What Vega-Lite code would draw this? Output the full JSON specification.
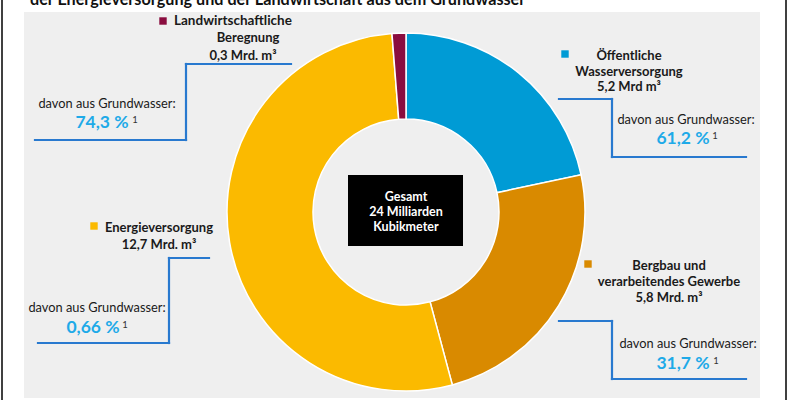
{
  "$schema": "https://vega.github.io/schema/vega-lite/v6.json",
  "width": 800,
  "height": 400,
  "padding": 0,
  "autosize": {"type": "none"},
  "background": "white",
  "config": {"view": {"stroke": null}, "axis": {"disable": true}, "text": {"font": "Lato", "color": "#1a1a1a"}},
  "data": {"values": [{}]},
  "layer": [
    {"mark": {"type": "rect", "fill": "#efefef"},
     "encoding": {"x": {"datum": 24, "type": "quantitative", "scale": {"domain": [0, 800], "nice": false, "zero": false}},
                  "x2": {"datum": 760},
                  "y": {"datum": 12, "type": "quantitative", "scale": {"domain": [0, 400], "nice": false, "zero": false, "reverse": true}},
                  "y2": {"datum": 398}}},
    {"mark": {"type": "rule", "color": "black", "strokeWidth": 1.5}, "encoding": {"x": {"datum": 2}, "y": {"datum": 0}, "y2": {"datum": 400}}},
    {"mark": {"type": "rule", "color": "black", "strokeWidth": 1.5}, "encoding": {"x": {"datum": 786}, "y": {"datum": 0}, "y2": {"datum": 400}}},
    {"mark": {"type": "text", "text": "der Energieversorgung und der Landwirtschaft aus dem Grundwasser", "align": "left", "baseline": "alphabetic", "fontSize": 16.2, "fontWeight": "bold", "color": "#111111"},
     "encoding": {"x": {"datum": 30}, "y": {"datum": 5}}},
    {"data": {"values": [
      {"Kategorie": "Öffentliche Wasserversorgung", "Mrd_m3": 5.2, "Reihenfolge": 1},
      {"Kategorie": "Bergbau und verarbeitendes Gewerbe", "Mrd_m3": 5.8, "Reihenfolge": 2},
      {"Kategorie": "Energieversorgung", "Mrd_m3": 12.7, "Reihenfolge": 3},
      {"Kategorie": "Landwirtschaftliche Beregnung", "Mrd_m3": 0.3, "Reihenfolge": 4}
    ]},
     "mark": {"type": "arc", "outerRadius": 179, "innerRadius": 93, "stroke": "white", "strokeWidth": 1.5},
     "encoding": {
       "theta": {"field": "Mrd_m3", "type": "quantitative", "stack": true},
       "order": {"field": "Reihenfolge", "type": "quantitative"},
       "color": {"field": "Kategorie", "type": "nominal", "legend": null,
                 "scale": {"domain": ["Öffentliche Wasserversorgung", "Bergbau und verarbeitendes Gewerbe", "Energieversorgung", "Landwirtschaftliche Beregnung"],
                           "range": ["#009bd5", "#d98a00", "#fbba00", "#8a0d3f"]}},
       "x": {"datum": 406}, "y": {"datum": 212}}},
    {"mark": {"type": "rect", "fill": "black"}, "encoding": {"x": {"datum": 348}, "x2": {"datum": 463}, "y": {"datum": 175}, "y2": {"datum": 246}}},
    {"mark": {"type": "text", "text": ["Gesamt", "24 Milliarden", "Kubikmeter"], "align": "center", "baseline": "middle", "fontSize": 12.5, "fontWeight": "bold", "color": "white", "lineHeight": 15},
     "encoding": {"x": {"datum": 406}, "y": {"datum": 197}}},

    {"mark": {"type": "point", "shape": "square", "filled": true, "size": 55, "opacity": 1, "color": "#8a0d3f"}, "encoding": {"x": {"datum": 163}, "y": {"datum": 21}}},
    {"mark": {"type": "text", "text": "Landwirtschaftliche", "align": "left", "baseline": "middle", "fontSize": 13.5, "fontWeight": "bold"}, "encoding": {"x": {"datum": 174}, "y": {"datum": 21}}},
    {"mark": {"type": "text", "text": "Beregnung", "align": "center", "baseline": "middle", "fontSize": 13, "fontWeight": "bold"}, "encoding": {"x": {"datum": 248}, "y": {"datum": 38}}},
    {"mark": {"type": "text", "text": "0,3 Mrd. m³", "align": "center", "baseline": "middle", "fontSize": 13, "fontWeight": "bold"}, "encoding": {"x": {"datum": 243}, "y": {"datum": 56}}},
    {"mark": {"type": "rule", "color": "#2879cf", "strokeWidth": 2.2, "strokeCap": "square"}, "encoding": {"x": {"datum": 291}, "x2": {"datum": 186}, "y": {"datum": 64}, "y2": {"datum": 64}}},
    {"mark": {"type": "rule", "color": "#2879cf", "strokeWidth": 2.2, "strokeCap": "square"}, "encoding": {"x": {"datum": 186}, "x2": {"datum": 186}, "y": {"datum": 64}, "y2": {"datum": 140}}},
    {"mark": {"type": "rule", "color": "#2879cf", "strokeWidth": 2.2, "strokeCap": "square"}, "encoding": {"x": {"datum": 186}, "x2": {"datum": 35}, "y": {"datum": 140}, "y2": {"datum": 140}}},
    {"mark": {"type": "text", "text": "davon aus Grundwasser:", "align": "center", "baseline": "middle", "fontSize": 12.8}, "encoding": {"x": {"datum": 107}, "y": {"datum": 104}}},
    {"mark": {"type": "text", "text": "74,3 %", "align": "center", "baseline": "middle", "fontSize": 17.5, "fontWeight": "bold", "color": "#1eaae8"}, "encoding": {"x": {"datum": 102}, "y": {"datum": 123}}},
    {"mark": {"type": "text", "text": "1", "align": "center", "baseline": "middle", "fontSize": 9.5, "color": "#333333"}, "encoding": {"x": {"datum": 135}, "y": {"datum": 120}}},

    {"mark": {"type": "point", "shape": "square", "filled": true, "size": 55, "opacity": 1, "color": "#009bd5"}, "encoding": {"x": {"datum": 565}, "y": {"datum": 54}}},
    {"mark": {"type": "text", "text": ["Öffentliche", "Wasserversorgung", "5,2 Mrd m³"], "align": "center", "baseline": "middle", "fontSize": 13, "fontWeight": "bold", "lineHeight": 15.5}, "encoding": {"x": {"datum": 629}, "y": {"datum": 56}}},
    {"mark": {"type": "rule", "color": "#2879cf", "strokeWidth": 2.2, "strokeCap": "square"}, "encoding": {"x": {"datum": 559}, "x2": {"datum": 612}, "y": {"datum": 99}, "y2": {"datum": 99}}},
    {"mark": {"type": "rule", "color": "#2879cf", "strokeWidth": 2.2, "strokeCap": "square"}, "encoding": {"x": {"datum": 612}, "x2": {"datum": 612}, "y": {"datum": 99}, "y2": {"datum": 157}}},
    {"mark": {"type": "rule", "color": "#2879cf", "strokeWidth": 2.2, "strokeCap": "square"}, "encoding": {"x": {"datum": 612}, "x2": {"datum": 746}, "y": {"datum": 157}, "y2": {"datum": 157}}},
    {"mark": {"type": "text", "text": "davon aus Grundwasser:", "align": "center", "baseline": "middle", "fontSize": 12.8}, "encoding": {"x": {"datum": 686}, "y": {"datum": 120}}},
    {"mark": {"type": "text", "text": "61,2 %", "align": "center", "baseline": "middle", "fontSize": 17.5, "fontWeight": "bold", "color": "#1eaae8"}, "encoding": {"x": {"datum": 683}, "y": {"datum": 139}}},
    {"mark": {"type": "text", "text": "1", "align": "center", "baseline": "middle", "fontSize": 9.5, "color": "#333333"}, "encoding": {"x": {"datum": 715}, "y": {"datum": 136}}},

    {"mark": {"type": "point", "shape": "square", "filled": true, "size": 55, "opacity": 1, "color": "#d98a00"}, "encoding": {"x": {"datum": 588}, "y": {"datum": 264}}},
    {"mark": {"type": "text", "text": ["Bergbau und", "verarbeitendes Gewerbe", "5,8 Mrd. m³"], "align": "center", "baseline": "middle", "fontSize": 13, "fontWeight": "bold", "lineHeight": 16}, "encoding": {"x": {"datum": 669}, "y": {"datum": 266}}},
    {"mark": {"type": "rule", "color": "#2879cf", "strokeWidth": 2.2, "strokeCap": "square"}, "encoding": {"x": {"datum": 559}, "x2": {"datum": 612}, "y": {"datum": 321}, "y2": {"datum": 321}}},
    {"mark": {"type": "rule", "color": "#2879cf", "strokeWidth": 2.2, "strokeCap": "square"}, "encoding": {"x": {"datum": 612}, "x2": {"datum": 612}, "y": {"datum": 321}, "y2": {"datum": 379}}},
    {"mark": {"type": "rule", "color": "#2879cf", "strokeWidth": 2.2, "strokeCap": "square"}, "encoding": {"x": {"datum": 612}, "x2": {"datum": 746}, "y": {"datum": 379}, "y2": {"datum": 379}}},
    {"mark": {"type": "text", "text": "davon aus Grundwasser:", "align": "center", "baseline": "middle", "fontSize": 12.8}, "encoding": {"x": {"datum": 688}, "y": {"datum": 344}}},
    {"mark": {"type": "text", "text": "31,7 %", "align": "center", "baseline": "middle", "fontSize": 17.5, "fontWeight": "bold", "color": "#1eaae8"}, "encoding": {"x": {"datum": 683}, "y": {"datum": 364}}},
    {"mark": {"type": "text", "text": "1", "align": "center", "baseline": "middle", "fontSize": 9.5, "color": "#333333"}, "encoding": {"x": {"datum": 716}, "y": {"datum": 361}}},

    {"mark": {"type": "point", "shape": "square", "filled": true, "size": 55, "opacity": 1, "color": "#fbba00"}, "encoding": {"x": {"datum": 94}, "y": {"datum": 226}}},
    {"mark": {"type": "text", "text": ["Energieversorgung", "12,7 Mrd. m³"], "align": "center", "baseline": "middle", "fontSize": 13, "fontWeight": "bold", "lineHeight": 17}, "encoding": {"x": {"datum": 159}, "y": {"datum": 228}}},
    {"mark": {"type": "rule", "color": "#2879cf", "strokeWidth": 2.2, "strokeCap": "square"}, "encoding": {"x": {"datum": 209}, "x2": {"datum": 169}, "y": {"datum": 258}, "y2": {"datum": 258}}},
    {"mark": {"type": "rule", "color": "#2879cf", "strokeWidth": 2.2, "strokeCap": "square"}, "encoding": {"x": {"datum": 169}, "x2": {"datum": 169}, "y": {"datum": 258}, "y2": {"datum": 343}}},
    {"mark": {"type": "rule", "color": "#2879cf", "strokeWidth": 2.2, "strokeCap": "square"}, "encoding": {"x": {"datum": 169}, "x2": {"datum": 38}, "y": {"datum": 343}, "y2": {"datum": 343}}},
    {"mark": {"type": "text", "text": "davon aus Grundwasser:", "align": "center", "baseline": "middle", "fontSize": 12.8}, "encoding": {"x": {"datum": 97}, "y": {"datum": 308}}},
    {"mark": {"type": "text", "text": "0,66 %", "align": "center", "baseline": "middle", "fontSize": 17.5, "fontWeight": "bold", "color": "#1eaae8"}, "encoding": {"x": {"datum": 93}, "y": {"datum": 328}}},
    {"mark": {"type": "text", "text": "1", "align": "center", "baseline": "middle", "fontSize": 9.5, "color": "#333333"}, "encoding": {"x": {"datum": 125}, "y": {"datum": 325}}}
  ]
}
